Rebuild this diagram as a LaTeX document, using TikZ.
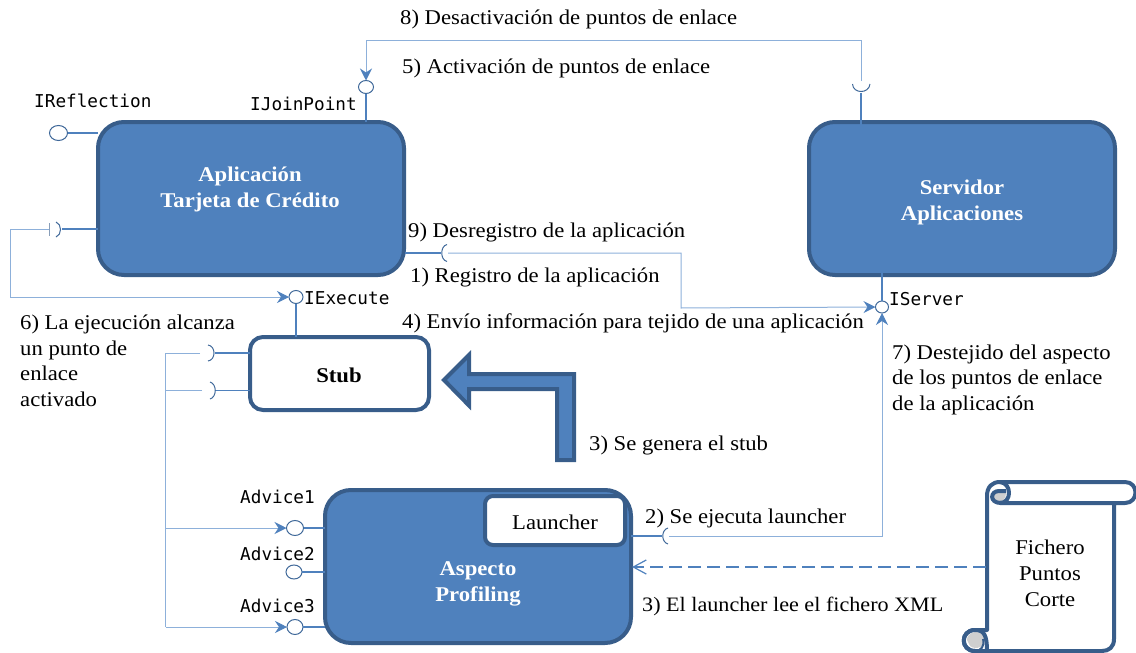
\documentclass[tikz,border=0pt]{standalone}
\usepackage{fontspec}
\setmainfont[FakeStretch=1.08]{Liberation Serif}
\newfontfamily\monof{DejaVu Sans Mono}
\usetikzlibrary{arrows.meta,shapes.geometric,calc}
\definecolor{fillb}{HTML}{4F81BD}
\definecolor{edgeb}{HTML}{385D8A}
\definecolor{thin}{HTML}{8DB0DA}
\definecolor{curlg}{HTML}{CFCFCF}
\tikzset{
  bigbox/.style={draw=edgeb,line width=4pt,fill=fillb,rounded corners=26pt,inner sep=0pt,outer sep=0pt},
  whitebox/.style={bigbox,fill=white,rounded corners=13pt},
  port/.style={ellipse,draw=edgeb!70!fillb,line width=1pt,fill=white,inner sep=0pt,outer sep=0pt},
  lbl/.style={anchor=base west,font=\fontsize{21}{25.5}\selectfont,inner sep=0pt,align=left},
  cen/.style={anchor=base,font=\fontsize{21}{26}\selectfont,inner sep=0pt,align=center},
  boldcen/.style={cen,font=\fontsize{21}{26}\selectfont\bfseries},
  mono/.style={anchor=base west,font=\monof\fontsize{17.7}{20}\selectfont,inner sep=0pt},
  wire/.style={draw=thin,line width=1pt},
  stubline/.style={draw=fillb,line width=1.2pt},
  sock/.style={draw=edgeb!70!fillb,line width=1pt},
  head/.style={-{Stealth[length=12pt,width=12pt,inset=4pt,fill=fillb,color=fillb]}},
  scrollline/.style={draw=edgeb,line width=4pt,line join=round},
}
\begin{document}
\begin{tikzpicture}[x=1pt,y=-1pt]
\useasboundingbox (0,0) rectangle (1136,653);
% boxes
\node[bigbox,minimum width=306pt,minimum height=153pt] (app) at (251,198.5) {};
\node[bigbox,minimum width=306pt,minimum height=153pt] (srv) at (962,198.5) {};
\node[whitebox,minimum width=179pt,minimum height=73pt] (stub) at (339.5,373.5) {};
\node[bigbox,minimum width=306pt,minimum height=153pt] (asp) at (478,566.5) {};
\node[whitebox,rounded corners=8pt,minimum width=140pt,minimum height=49pt] (lau) at (555,520.5) {};
% box texts
\node[boldcen,text=white] (tapp) at (250,207) {Aplicación\\Tarjeta de Crédito};
\node[boldcen,text=white] (tsrv) at (962,220) {Servidor\\Aplicaciones};
\node[boldcen] (tstub) at (339,382) {Stub};
\node[boldcen,text=white] (tasp) at (478,601) {Aspecto\\Profiling};
\node[cen] (tlau) at (555,529) {Launcher};
% big arrow
\draw[draw=edgeb,line width=4pt,fill=fillb,miter limit=10]
  (444,380) -- (469,355) -- (469,374) -- (574,374) -- (574,460) -- (557,460) -- (557,389) -- (469,389) -- (469,405.5) -- cycle;
% scroll
\draw[scrollline,fill=white]
  (1000,482) -- (1125,482) .. controls (1139,482) and (1139,503) .. (1125,503) -- (1114,503)
  -- (1114,639) .. controls (1114,647) and (1109,651) .. (1102,651) -- (975,651)
  .. controls (960,651) and (960,630) .. (975,630) -- (987,630) -- (987,496)
  .. controls (987,487) and (992,482) .. (1000,482) -- cycle;
\fill[curlg] (967,640) .. controls (967,633) and (975,631) .. (980,632) .. controls (984,634) and (986,639) .. (984,644) .. controls (981,649) and (973,649) .. (970,646) -- cycle;
\draw[scrollline,line cap=round]
  (975,651) .. controls (960,651) and (960,630) .. (975,630) .. controls (984,630) and (987,635) .. (987,651);
\draw[draw=edgeb,line width=2pt] (975,651) .. controls (981,651) and (985,646) .. (983,639);
\fill[curlg] (992,498) .. controls (993,493) and (997,492) .. (1006,493) .. controls (1006,498) and (1003,502) .. (998,502) .. controls (994,502) and (992,501) .. (992,498) -- cycle;
\draw[scrollline] (1001,503) .. controls (989,503) and (990,491) .. (999,491) -- (1006,491);
\draw[scrollline] (1000,482) .. controls (1012,483) and (1012,503) .. (1000,503) -- (1114,503);
\node[cen] (tfich) at (1050,606) {Fichero\\Puntos\\Corte};
% ports
\node[port,minimum width=18pt,minimum height=15pt] (pref) at (58.5,133) {};
\node[port,minimum width=15pt,minimum height=13pt] (pjoin) at (366,87) {};
\node[port,minimum width=14pt,minimum height=13pt] (pexe) at (296,297) {};
\node[port,minimum width=13pt,minimum height=12pt] (psrv) at (882,307) {};
\node[port,minimum width=17pt,minimum height=15pt] (pa1) at (295,528) {};
\node[port,minimum width=16pt,minimum height=14pt] (pa2) at (294,572) {};
\node[port,minimum width=16pt,minimum height=15pt] (pa3) at (295,627) {};
% coordinates
\coordinate (j1) at (366,40); \coordinate (j2) at (861,40); \coordinate (j3) at (861,81);
\coordinate (s1) at (861,93); \coordinate (s1i) at (861,127);
\coordinate (a1) at (62,229); \coordinate (a2) at (49,229); \coordinate (a3) at (10.5,229); \coordinate (a4) at (10.5,297);
\coordinate (r1) at (405,253); \coordinate (r2) at (441,253); \coordinate (r3) at (448,253); \coordinate (r4) at (681,253); \coordinate (r5) at (681,308);
\coordinate (l1) at (631,536); \coordinate (l2) at (662,536); \coordinate (l3) at (669,536); \coordinate (l4) at (882,536);
\coordinate (b1) at (250,353); \coordinate (b2) at (215,353); \coordinate (b3) at (200,353);
\coordinate (c1) at (250,390.5); \coordinate (c2) at (215,390.5); \coordinate (c3) at (202,390.5);
\coordinate (v1) at (165.5,353); \coordinate (v2) at (165.5,390.5); \coordinate (v3) at (165.5,528); \coordinate (v4) at (165.5,627);
\coordinate (d1) at (986,567); \coordinate (d2) at (632,567);
% connectors
\draw[wire,head] (s1 |- j3) -- (j2) -- (j1) -- (pjoin.north);
\draw[stubline] (pjoin.south) -- (pjoin.south |- app.north);
\draw[stubline] (s1) -- (s1i);
\draw[sock] (852.5,84) .. controls (853,94) and (869,94) .. (870,84);
\draw[stubline] (pref.east) -- (pref.east -| app.west);
\draw[stubline] (a1) -- (a1 -| app.west);
\draw[sock] (56,222) .. controls (62,224) and (62,235) .. (56,237);
\draw[sock,draw=edgeb!60!white] (49.5,223) -- (49.5,236);
\draw[wire,head] (a2) -- (a3) -- (a4) -- (pexe.west);
\draw[stubline] (pexe.south) -- (pexe.south |- stub.north);
\draw[stubline] (r1) -- (r2);
\draw[sock] (447,244.5) .. controls (440,246) and (440,260) .. (447,261.5);
\draw[wire,head] (r3) -- (r4) -- (r5) -- (psrv.west);
\draw[stubline] (psrv.north) -- (882,265);
\draw[stubline] (l1) -- (l2);
\draw[sock] (668,528) .. controls (661,530) and (661,542) .. (668,544);
\draw[wire,head] (l3) -- (l4) -- (psrv.south);
\draw[stubline] (b1) -- (b2);
\draw[sock] (208,345) .. controls (216,346) and (216,360) .. (208,361);
\draw[wire] (b3) -- (v1) -- (v4);
\draw[stubline] (c1) -- (c2);
\draw[sock] (210,382) .. controls (217,384) and (217,397) .. (210,399);
\draw[wire] (c3) -- (v2);
\draw[wire,head] (v3) -- (pa1.west);
\draw[wire,head] (v4) -- (pa3.west);
\draw[stubline] (pa1.east) -- (pa1.east -| asp.west);
\draw[stubline] (pa2.east) -- (pa2.east -| asp.west);
\draw[stubline] (pa3.east) -- (pa3.east -| asp.west);
\draw[draw=fillb,line width=1.5pt,dash pattern=on 13pt off 6pt,-{Straight Barb[length=13pt,width=14pt,color=fillb,line width=1.2pt]}] (d1) -- (d2);
% labels
\node[lbl] (t8) at (400,24) {8) Desactivación de puntos de enlace};
\node[lbl] (t5) at (402,73) {5) Activación de puntos de enlace};
\node[lbl] (t9) at (408,237) {9) Desregistro de la aplicación};
\node[lbl] (t1) at (410,282) {1) Registro de la aplicación};
\node[lbl] (t4) at (402,328) {4) Envío información para tejido de una aplicación};
\node[lbl] (t6) at (20,406) {6) La ejecución alcanza\\un punto de\\enlace\\activado};
\node[lbl] (t7) at (892,410) {7) Destejido del aspecto\\de los puntos de enlace\\de la aplicación};
\node[lbl] (t3a) at (589,450) {3) Se genera el stub};
\node[lbl] (t2) at (645,523) {2) Se ejecuta launcher};
\node[lbl,font=\fontsize{20.5}{25.5}\selectfont] (t3b) at (642,611) {3) El launcher lee el fichero XML};
\node[mono] (mref) at (34,107) {IReflection};
\node[mono] (mjoin) at (250,110) {IJoinPoint};
\node[mono] (mexe) at (304,304) {IExecute};
\node[mono] (msrv) at (889,305) {IServer};
\node[mono] (ma1) at (240,503) {Advice1};
\node[mono] (ma2) at (240,560) {Advice2};
\node[mono] (ma3) at (240,612) {Advice3};
\end{tikzpicture}
\end{document}
